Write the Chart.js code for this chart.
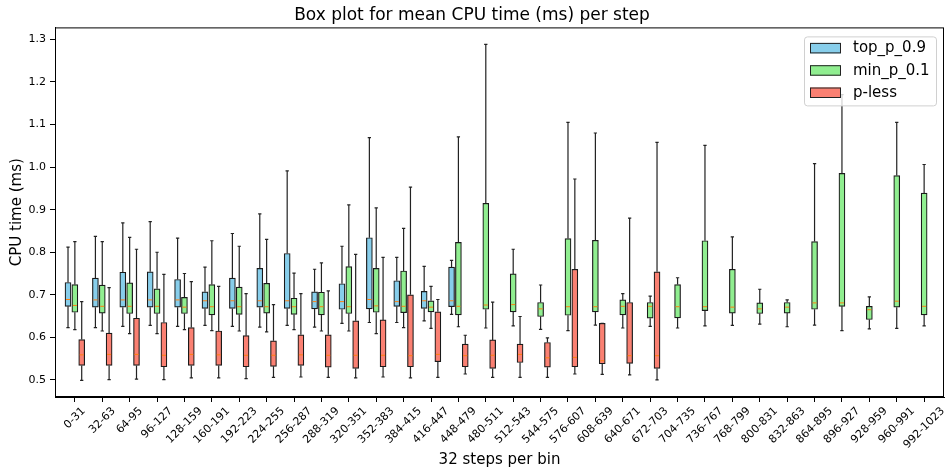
<!DOCTYPE html>
<html>
<head>
<meta charset="utf-8">
<script src="https://cdn.jsdelivr.net/npm/chart.js@4/dist/chart.umd.min.js"></script>
<style>
  html, body { margin: 0; padding: 0; background: #fff; }
  #wrap { width: 948px; height: 471px; }
</style>
</head>
<body>
<div id="wrap"><canvas id="graph"></canvas></div>
<script>
// categories (32 steps per bin)
const bins = ['0-31', '32-63', '64-95', '96-127', '128-159', '160-191', '192-223', '224-255',
  '256-287', '288-319', '320-351', '352-383', '384-415', '416-447', '448-479', '480-511',
  '512-543', '544-575', '576-607', '608-639', '640-671', '672-703', '704-735', '736-767',
  '768-799', '800-831', '832-863', '864-895', '896-927', '928-959', '960-991', '992-1023'];

const yTicks = [0.5, 0.6, 0.7, 0.8, 0.9, 1.0, 1.1, 1.2, 1.3];

// each entry: [low whisker, Q1, median, Q3, high whisker]
const topP = [
  [0.623, 0.673, 0.689, 0.729, 0.812], [0.623, 0.671, 0.688, 0.739, 0.837],
  [0.626, 0.671, 0.688, 0.753, 0.869], [0.628, 0.671, 0.688, 0.754, 0.872],
  [0.626, 0.671, 0.688, 0.736, 0.833], [0.628, 0.668, 0.686, 0.707, 0.765],
  [0.626, 0.668, 0.686, 0.739, 0.844], [0.624, 0.671, 0.686, 0.762, 0.890],
  [0.628, 0.668, 0.686, 0.797, 0.991], [0.624, 0.667, 0.684, 0.707, 0.760],
  [0.633, 0.666, 0.684, 0.726, 0.814], [0.635, 0.667, 0.689, 0.834, 1.069],
  [0.635, 0.673, 0.684, 0.733, 0.788], [0.639, 0.668, 0.686, 0.708, 0.767],
  [0.654, 0.672, 0.686, 0.765, 0.781]
];

const minP = [
  [0.618, 0.659, 0.675, 0.724, 0.825], [0.615, 0.657, 0.673, 0.723, 0.825],
  [0.609, 0.656, 0.673, 0.728, 0.835], [0.609, 0.656, 0.673, 0.714, 0.800],
  [0.618, 0.656, 0.671, 0.694, 0.750], [0.616, 0.653, 0.672, 0.724, 0.827],
  [0.615, 0.654, 0.672, 0.718, 0.814], [0.613, 0.657, 0.672, 0.727, 0.830],
  [0.618, 0.654, 0.672, 0.692, 0.751], [0.615, 0.653, 0.672, 0.706, 0.775],
  [0.615, 0.656, 0.672, 0.766, 0.911], [0.609, 0.659, 0.674, 0.762, 0.904],
  [0.623, 0.658, 0.673, 0.756, 0.856], [0.621, 0.660, 0.671, 0.686, 0.720],
  [0.625, 0.653, 0.673, 0.823, 1.071], [0.622, 0.666, 0.676, 0.915, 1.288],
  [0.627, 0.660, 0.677, 0.749, 0.807], [0.619, 0.649, 0.667, 0.682, 0.723],
  [0.616, 0.652, 0.672, 0.832, 1.105], [0.629, 0.660, 0.672, 0.828, 1.080],
  [0.622, 0.653, 0.673, 0.688, 0.703], [0.626, 0.645, 0.673, 0.682, 0.697],
  [0.622, 0.646, 0.672, 0.724, 0.740], [0.627, 0.663, 0.672, 0.827, 1.051],
  [0.628, 0.657, 0.671, 0.760, 0.836], [0.631, 0.656, 0.667, 0.681, 0.713],
  [0.625, 0.657, 0.671, 0.682, 0.688], [0.629, 0.666, 0.681, 0.825, 1.008],
  [0.616, 0.673, 0.681, 0.985, 1.170], [0.620, 0.642, 0.665, 0.673, 0.695],
  [0.621, 0.671, 0.685, 0.980, 1.105], [0.627, 0.653, 0.673, 0.939, 1.006]
];

const pLess = [
  [0.499, 0.534, 0.559, 0.595, 0.684], [0.501, 0.534, 0.560, 0.610, 0.717],
  [0.502, 0.534, 0.560, 0.645, 0.807], [0.501, 0.531, 0.558, 0.635, 0.748],
  [0.505, 0.534, 0.560, 0.623, 0.731], [0.505, 0.534, 0.559, 0.615, 0.720],
  [0.503, 0.531, 0.558, 0.604, 0.703], [0.506, 0.532, 0.558, 0.592, 0.677],
  [0.507, 0.534, 0.559, 0.606, 0.703], [0.506, 0.530, 0.558, 0.606, 0.709],
  [0.505, 0.527, 0.558, 0.639, 0.795], [0.507, 0.531, 0.558, 0.641, 0.788],
  [0.505, 0.531, 0.557, 0.700, 0.953], [0.506, 0.543, 0.560, 0.660, 0.689],
  [0.514, 0.531, 0.557, 0.584, 0.605], [0.506, 0.527, 0.558, 0.594, 0.683],
  [0.506, 0.541, 0.560, 0.584, 0.649], [0.506, 0.530, 0.552, 0.588, 0.599],
  [0.514, 0.531, 0.553, 0.760, 0.972], [0.513, 0.538, 0.545, 0.633, 0.633],
  [0.512, 0.539, 0.557, 0.682, 0.880], [0.500, 0.527, 0.557, 0.754, 1.058]
];

const seriesNames = ['top_p_0.9', 'min_p_0.1', 'p-less'];
const seriesColors = ['#87CEEB', '#90EE90', '#FA8072'];
const seriesShift = [-0.25, 0, 0.25];
const seriesStats = [topP, minP, pLess];

const FONT = '"DejaVu Sans", "Liberation Sans", sans-serif';

// box = floating bar from Q1 to Q3, whiskers/median drawn by the plugin below
function makeDataset(k) {
  const stats = seriesStats[k];
  return {
    label: seriesNames[k],
    backgroundColor: seriesColors[k],
    borderColor: '#1a1a1a',
    borderWidth: 1.2,
    borderSkipped: false,
    barThickness: 6,
    grouped: false,
    data: stats.map((s, i) => ({ x: i + 1 + seriesShift[k], y: [s[1], s[3]] })),
    stats: stats
  };
}

const boxPlugin = {
  id: 'boxWhiskers',
  afterDatasetsDraw(chart) {
    const ctx = chart.ctx;
    const xs = chart.scales.x, ys = chart.scales.y;
    const cap = xs.getPixelForValue(1.06) - xs.getPixelForValue(1);
    ctx.save();
    chart.data.datasets.forEach((ds, di) => {
      const meta = chart.getDatasetMeta(di);
      ds.stats.forEach((s, i) => {
        const bar = meta.data[i];
        const cx = bar.x, half = bar.width / 2;
        const lo = ys.getPixelForValue(s[0]);
        const q1 = ys.getPixelForValue(s[1]);
        const med = ys.getPixelForValue(s[2]);
        const q3 = ys.getPixelForValue(s[3]);
        const hi = ys.getPixelForValue(s[4]);
        ctx.strokeStyle = '#222';
        ctx.lineWidth = 1.2;
        ctx.beginPath();
        ctx.moveTo(cx, q3); ctx.lineTo(cx, hi);
        ctx.moveTo(cx, q1); ctx.lineTo(cx, lo);
        ctx.moveTo(cx - cap, hi); ctx.lineTo(cx + cap, hi);
        ctx.moveTo(cx - cap, lo); ctx.lineTo(cx + cap, lo);
        ctx.stroke();
        ctx.strokeStyle = '#ff7f0e';
        ctx.lineWidth = 1;
        ctx.beginPath();
        ctx.moveTo(cx - half + 1, med); ctx.lineTo(cx + half - 1, med);
        ctx.stroke();
      });
    });
    ctx.restore();
  },
  afterDraw(chart) {
    const ctx = chart.ctx;
    const area = chart.chartArea;
    const xs = chart.scales.x;
    ctx.save();
    // spines on all four sides
    ctx.strokeStyle = '#000';
    ctx.lineWidth = 1;
    ctx.strokeRect(area.left + 0.5, area.top + 0.5, area.right - area.left - 1, area.bottom - area.top - 1);

    // x tick labels rotated 45deg, centred under the tick like matplotlib
    ctx.font = '11px ' + FONT;
    ctx.fillStyle = '#000';
    ctx.textAlign = 'center';
    ctx.textBaseline = 'middle';
    const top = area.bottom + 8;
    bins.forEach((lab, i) => {
      const px = xs.getPixelForValue(i + 1);
      const d = (ctx.measureText(lab).width + 12) * Math.SQRT1_2;
      ctx.save();
      ctx.translate(px, top + d / 2);
      ctx.rotate(-Math.PI / 4);
      ctx.fillText(lab, 0, 0);
      ctx.restore();
    });

    // legend box, upper right
    const lx = area.right - 140, ly = area.top + 9, lw = 132, lh = 69;
    ctx.fillStyle = 'rgba(255,255,255,0.8)';
    ctx.strokeStyle = '#d0d0d0';
    ctx.beginPath();
    ctx.roundRect(lx + 0.5, ly + 0.5, lw, lh, 3);
    ctx.fill();
    ctx.stroke();
    ctx.font = '15px ' + FONT;
    ctx.textAlign = 'left';
    chart.data.datasets.forEach((ds, k) => {
      const ry = ly + 11.5 + k * 22.3;
      ctx.fillStyle = ds.backgroundColor;
      ctx.fillRect(lx + 6, ry - 5, 31, 10.5);
      ctx.strokeStyle = '#222';
      ctx.strokeRect(lx + 6.5, ry - 4.5, 30, 9.5);
      ctx.fillStyle = '#000';
      ctx.fillText(ds.label, lx + 49, ry + 0.5);
    });
    ctx.restore();
  }
};

new Chart(document.getElementById('graph'), {
  type: 'bar',
  data: { datasets: [0, 1, 2].map(makeDataset) },
  options: {
    responsive: true,
    maintainAspectRatio: false,
    animation: false,
    layout: { padding: { left: 0, right: 4, top: 0, bottom: 0 } },
    plugins: {
      legend: { display: false },
      tooltip: { enabled: false },
      title: {
        display: true,
        text: 'Box plot for mean CPU time (ms) per step',
        color: '#000',
        font: { family: FONT, size: 17, weight: 'normal' },
        padding: { top: 5, bottom: 2 }
      }
    },
    scales: {
      x: {
        type: 'linear',
        min: 0.275,
        max: 32.725,
        bounds: 'data',
        offset: false,
        afterBuildTicks: axis => { axis.ticks = bins.map((b, i) => ({ value: i + 1 })); },
        afterFit: axis => { axis.height = 74; },
        ticks: { display: false },
        grid: { drawOnChartArea: false, offset: false, tickLength: 5, color: '#000' },
        border: { display: true, color: '#000' },
        title: {
          display: true,
          text: '32 steps per bin',
          color: '#000',
          font: { family: FONT, size: 15 },
          padding: { top: 0, bottom: 2 }
        }
      },
      y: {
        min: 0.46,
        max: 1.328,
        bounds: 'data',
        afterBuildTicks: axis => { axis.ticks = yTicks.map(v => ({ value: v })); },
        afterFit: axis => { axis.width = 55; },
        ticks: {
          color: '#000',
          font: { family: FONT, size: 11 },
          padding: 4,
          callback: v => v.toFixed(1)
        },
        grid: { drawOnChartArea: false, tickLength: 5, color: '#000' },
        border: { display: true, color: '#000' },
        title: {
          display: true,
          text: 'CPU time (ms)',
          color: '#000',
          font: { family: FONT, size: 15 },
          padding: { top: 8, bottom: 0 }
        }
      }
    }
  },
  plugins: [boxPlugin]
});
</script>
</body>
</html>
